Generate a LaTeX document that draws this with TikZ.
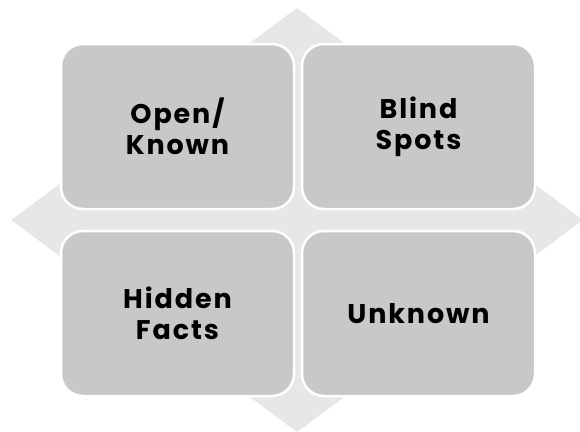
\documentclass[tikz,border=0pt]{standalone}
\usepackage{fontspec}
\setmainfont{Poppins}
\usepackage{tikz}

\definecolor{quadgray}{RGB}{200,200,200}
\definecolor{diagray}{RGB}{231,231,231}

\tikzset{
    quad/.style={fill=quadgray, draw=white, line width=2.5pt, rounded corners=22pt,
        minimum width=233pt, minimum height=165pt, align=center,
        font=\bfseries\fontsize{27}{31}\selectfont\addfontfeatures{LetterSpace=7}, text=black}
}

\begin{document}
\begin{tikzpicture}[x=1pt, y=-1pt]
    \useasboundingbox (0,0) rectangle (580,431);

    % Background diamond
    \fill[diagray] (297,8) -- (583,220) -- (297,432) -- (11,220) -- cycle;

    % Quadrants
    \node[quad] (open) at (177.5,126.5) {Open/\\Known};
    \node[quad] (blind) at (418.5,126.5) {Blind\\Spots};
    \node[quad] (hidden) at (177.5,313.5) {Hidden\\Facts};
    \node[quad] (unknown) at (418.5,313.5) {Unknown};
\end{tikzpicture}
\end{document}
